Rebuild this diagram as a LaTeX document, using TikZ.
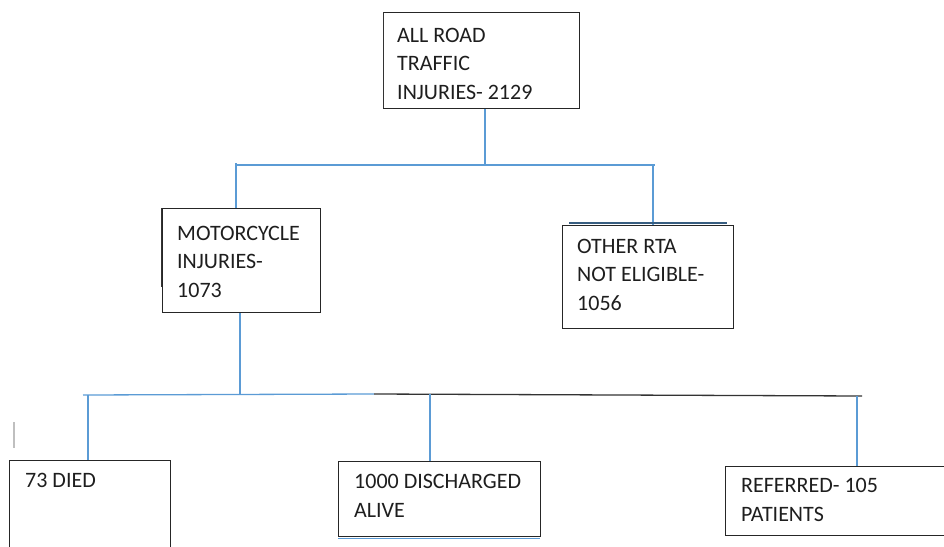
\documentclass[tikz,border=0pt]{standalone}
\usepackage{fontspec}
\setmainfont{Carlito}
\definecolor{conn}{RGB}{91,155,213}
\definecolor{txt}{RGB}{30,30,30}
\tikzset{
  x=1pt, y=-1pt,
  boxline/.style={draw=black!85, line width=1.3pt},
  connline/.style={draw=conn, line width=1.3pt},
  blackline/.style={draw=black!80, line width=1.3pt},
  lbl/.style={anchor=base west, inner sep=0pt, align=left, text=txt,
    font=\fontsize{22}{28.5}\selectfont},
}
\begin{document}
\begin{tikzpicture}
\useasboundingbox (0,0) rectangle (944,546);
% boxes
\node[boxline, rectangle, minimum width=196pt, minimum height=96pt, anchor=north west, inner sep=0pt] (b1) at (383,12) {};
\node[boxline, rectangle, minimum width=158pt, minimum height=104pt, anchor=north west, inner sep=0pt] (b2) at (162,208) {};
\node[boxline, rectangle, minimum width=171pt, minimum height=103pt, anchor=north west, inner sep=0pt] (b3) at (562,225) {};
\node[boxline, rectangle, minimum width=161pt, minimum height=100pt, anchor=north west, inner sep=0pt] (b4) at (9,460) {};
\node[boxline, rectangle, minimum width=202pt, minimum height=75pt, anchor=north west, inner sep=0pt] (b5) at (338,461) {};
\node[boxline, rectangle, minimum width=240pt, minimum height=69pt, anchor=north west, inner sep=0pt] (b6) at (725,466) {};
% texts (anchored at the baseline of the last line)
\node[lbl] (t1) at (397,99) {ALL ROAD\\TRAFFIC\\INJURIES- 2129};
\node[lbl] (t2) at (177,297) {MOTORCYCLE\\INJURIES-\\1073};
\node[lbl] (t3) at (577,310) {OTHER RTA\\NOT ELIGIBLE-\\1056};
\node[lbl] (t4) at (25,487) {73 DIED};
\node[lbl] (t5) at (354,517) {1000 DISCHARGED\\ALIVE};
\node[lbl] (t6) at (741,521) {REFERRED- 105\\PATIENTS};
% junction coordinates
\coordinate (j1) at (485,165);
\coordinate (h1l) at (235,165);
\coordinate (h1r) at (655,165);
\coordinate (j2) at (240,395);
\coordinate (h2l) at (83,395);
\coordinate (h2m) at (374,394);
\coordinate (h2r) at (862,396);
% first level
\draw[connline] (b1.south -| j1) -- (j1);
\draw[connline] (h1l) -- (h1r);
\draw[connline] (236,163) -- (b2.north -| 236,0);
\draw[connline] (653,164) -- (b3.north -| 653,0);
% second level
\draw[connline] (b2.south -| j2) -- (j2);
\draw[connline] (h2l) -- (h2m);
\draw[blackline] (h2m) -- (h2r);
\draw[connline] (88,395) -- (b4.north -| 88,0);
\draw[connline] (430,394) -- (b5.north -| 430,0);
\draw[connline] (857,396) -- (b6.north -| 857,0);
% artefacts
\draw[draw=black!25, line width=1.2pt] (14,422) -- (14,448);
\draw[draw=black!80, line width=1.8pt] (161.5,208) -- (161.5,287);
\draw[draw=black!80, line width=1.8pt] (383.5,12) -- (383.5,108);
\draw[draw=conn!60!black, line width=1.3pt] (569,223) -- (727,223);
\draw[draw=conn, line width=1.3pt] (338,538.5) -- (540,538.5);
\end{tikzpicture}
\end{document}
